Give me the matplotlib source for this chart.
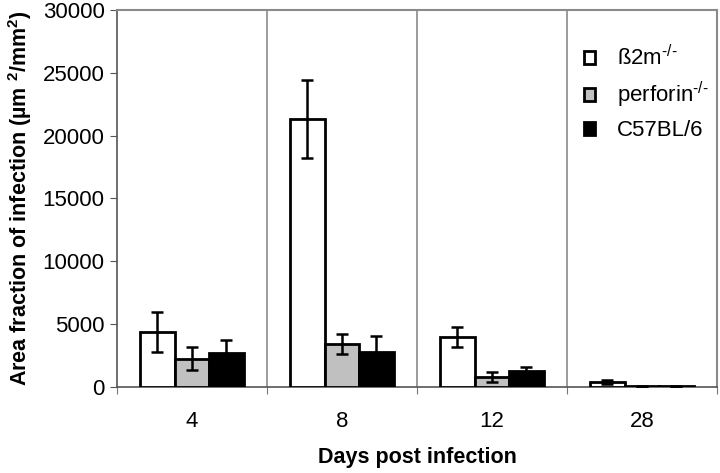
import numpy as np
import matplotlib.pyplot as plt
from matplotlib.ticker import FixedLocator

plt.rcParams['font.family'] = ['Liberation Sans', 'DejaVu Sans']
plt.rcParams['mathtext.fontset'] = 'custom'
plt.rcParams['mathtext.rm'] = 'Liberation Sans'
plt.rcParams['mathtext.bf'] = 'Liberation Sans:bold'

days = ['4', '8', '12', '28']
series = ['ß2m$^{\\mathrm{‐/‐}}$', 'perforin$^{\\mathrm{‐/‐}}$', 'C57BL/6']
colors = ['white', '#c0c0c0', 'black']

b2m = [4400, 21300, 4000, 420]
b2m_err = [1600, 3100, 800, 150]
perforin = [2250, 3400, 770, 70]
perforin_err = [900, 800, 400, 40]
c57 = [2700, 2800, 1250, 70]
c57_err = [1000, 1250, 300, 40]

values = [b2m, perforin, c57]
errors = [b2m_err, perforin_err, c57_err]

fig = plt.figure(figsize=(7.2, 4.73), dpi=100)
ax = fig.add_axes([0.1625, 0.182, 0.833, 0.797])

x = np.arange(len(days))
w = 0.23
for i, (vals, errs) in enumerate(zip(values, errors)):
    ax.bar(x + (i - 1) * w, vals, w, color=colors[i], edgecolor='black',
           linewidth=2, label=series[i], zorder=3)
    ax.errorbar(x + (i - 1) * w, vals, yerr=errs, fmt='none', ecolor='black',
                elinewidth=1.8, capsize=4.5, capthick=1.8, zorder=4)

ax.set_xlim(-0.5, 3.5)
ax.set_ylim(0, 30000)
ax.set_yticks(range(0, 30001, 5000))
ax.xaxis.set_major_locator(FixedLocator([-0.5, 0.5, 1.5, 2.5, 3.5]))
ax.set_xticklabels([])
ax.xaxis.set_minor_locator(FixedLocator(x))
ax.set_xticklabels(days, minor=True)
ax.tick_params(axis='x', which='minor', length=0, pad=17, labelsize=16)
ax.tick_params(axis='x', which='major', length=5, color='#777777', direction='out')
ax.tick_params(axis='y', labelsize=16, length=5, color='#555555', pad=4)
for xv in [0.5, 1.5, 2.5]:
    ax.axvline(xv, color='#8a8a8a', linewidth=1.2, zorder=1)
for s in ['top', 'right']:
    ax.spines[s].set_color('#8a8a8a')
    ax.spines[s].set_linewidth(1.5)
ax.spines['left'].set_color('#555555')
ax.spines['bottom'].set_color('#555555')
ax.spines['left'].set_linewidth(1.2)
ax.spines['bottom'].set_linewidth(1.2)

ax.set_ylabel('Area fraction of infection (µm $^{\\mathbf{2}}$/mm$^{\\mathbf{2}}$)',
              fontsize=15.5, fontweight='bold', labelpad=6)
fig.text(0.58, 0.032, 'Days post infection', fontsize=15.5, fontweight='bold',
         ha='center', va='center')

ax.legend(loc='upper right', bbox_to_anchor=(1.02, 0.96), frameon=False,
          fontsize=16, handlelength=0.5, handleheight=0.5, handletextpad=1.0,
          labelspacing=0.45)

fig.savefig('out.png', dpi=100)
